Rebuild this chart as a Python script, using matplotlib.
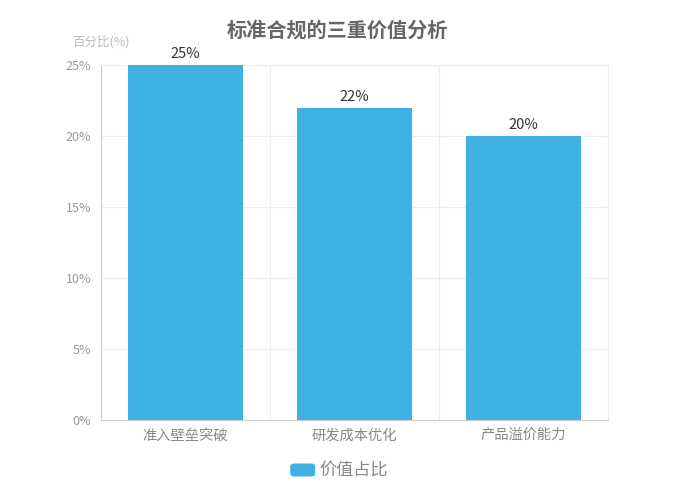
import numpy as np
import matplotlib
matplotlib.use("Agg")
import matplotlib.pyplot as plt
from matplotlib.patches import FancyBboxPatch

plt.rcParams['font.family'] = ['Noto Sans CJK SC', 'DejaVu Sans']

categories = ['准入壁垒突破', '研发成本优化', '产品溢价能力']
values = [25, 22, 20]
series_name = '价值占比'
yticks = [0, 5, 10, 15, 20, 25]

bar_color = '#3fb1e3'

fig = plt.figure(figsize=(6.75, 5), dpi=100)
ax = fig.add_axes([0.1496, 0.16, 0.7511, 0.71])

x = np.arange(len(categories))
ax.bar(x, values, width=0.68, color=bar_color, zorder=3)
for xi, v in zip(x, values):
    ax.text(xi, v + 0.25, f'{v}%', ha='center', va='bottom', fontsize=10.5, color='#333333')

ax.set_xlim(-0.5, len(categories) - 0.5)
ax.set_ylim(0, 25)
ax.set_yticks(yticks)
ax.set_yticklabels([f'{t}%' for t in yticks])
ax.set_xticks(x)
ax.set_xticklabels(categories)

# gridlines: horizontal at ticks, vertical at category boundaries
for t in yticks[1:]:
    ax.axhline(t, color='#eeeeee', lw=0.8, zorder=0)
for b in np.arange(0.5, len(categories) - 0.5, 1):
    ax.axvline(b, color='#eeeeee', lw=0.8, zorder=0)

for side in ['top', 'right']:
    ax.spines[side].set_color('#eeeeee')
    ax.spines[side].set_linewidth(0.8)
for side in ['left', 'bottom']:
    ax.spines[side].set_color('#cccccc')
    ax.spines[side].set_linewidth(0.8)

ax.tick_params(axis='y', length=0, labelsize=9, labelcolor='#999999', pad=7)
ax.tick_params(axis='x', length=0, labelsize=10.3, labelcolor='#888888', pad=6)

ax.text(0.0, 1.045, '百分比(%)', transform=ax.transAxes, ha='center', va='bottom',
        fontsize=9, color='#bbbbbb')

fig.text(0.5, 0.94, '标准合规的三重价值分析', ha='center', va='center',
         fontsize=14.5, fontweight='bold', color='#666666')

# legend
patch = FancyBboxPatch((0.430, 0.047), 0.037, 0.026, boxstyle='round,pad=0,rounding_size=0.006',
                       transform=fig.transFigure, color=bar_color, lw=0)
fig.patches.append(patch)
fig.text(0.473, 0.059, series_name, ha='left', va='center', fontsize=12.3, color='#888888')

fig.savefig('out.png', dpi=100)
